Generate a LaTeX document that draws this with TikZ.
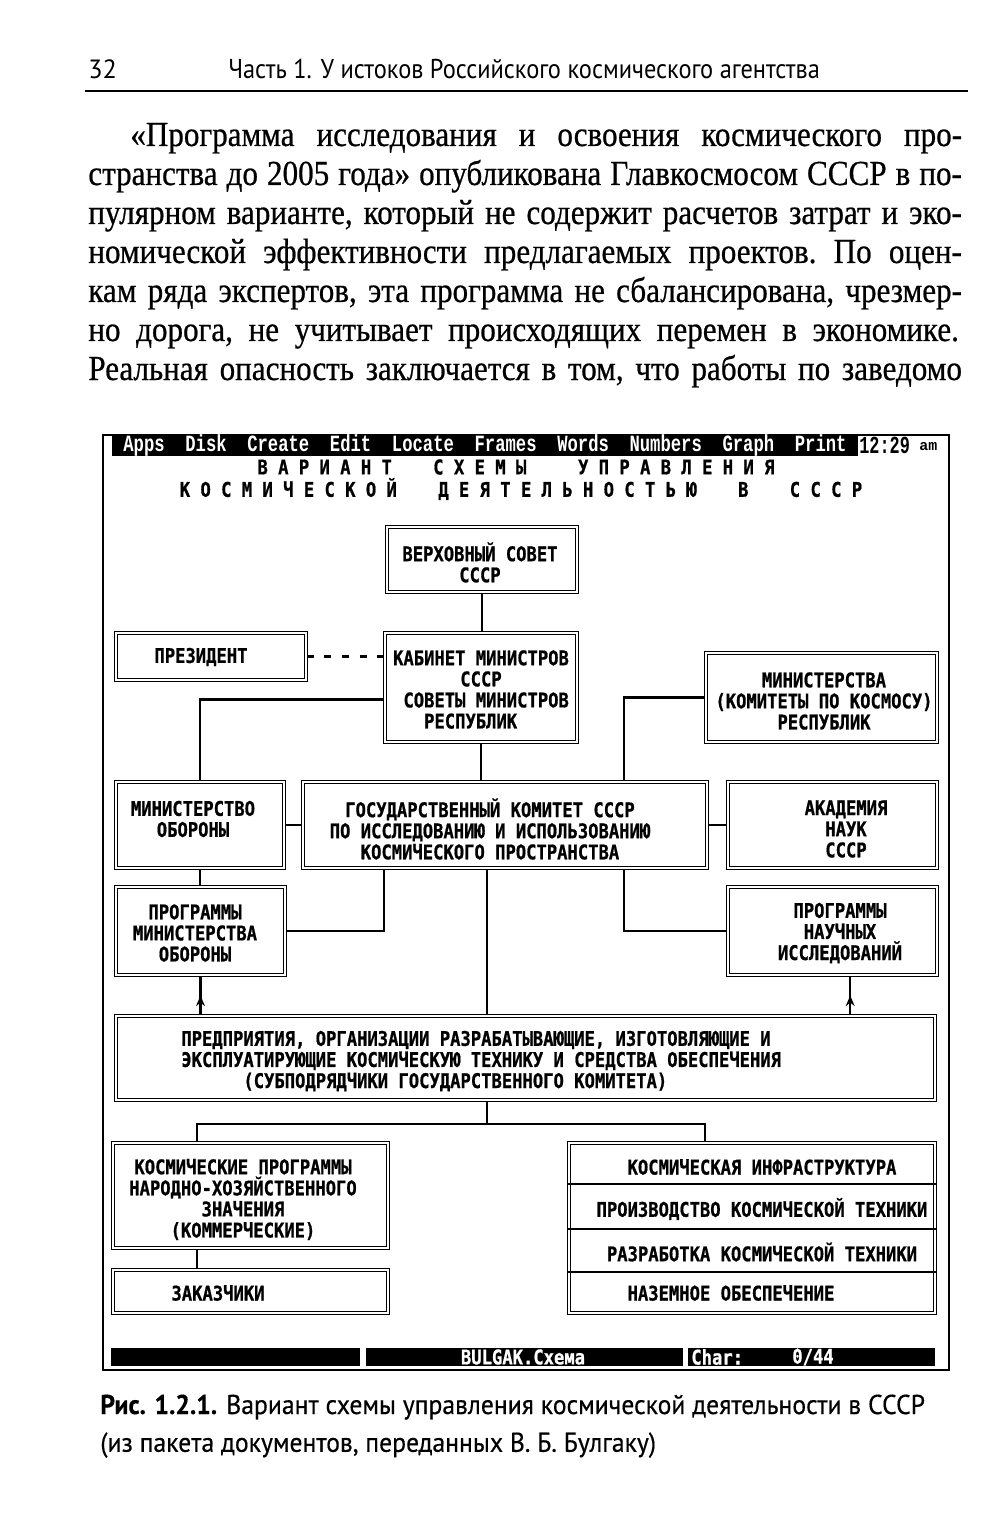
\documentclass[tikz,border=0pt]{standalone}
\usepackage{fontspec}
\usepackage{graphicx}
\usetikzlibrary{fit,calc,arrows.meta,decorations.markings}
\newfontfamily\bodyfont[FakeStretch=0.885,FakeBold=0.6]{Liberation Serif}
\newfontfamily\hdfont{PT Sans}
\newfontfamily\capfont[FakeBold=0.4]{PT Sans}
\newfontfamily\dgfont[FakeStretch=0.85,FakeBold=0.8]{DejaVu Sans Mono}
\newfontfamily\menufont{Liberation Mono}
\tikzset{
  boxst/.style={draw, line width=0.9pt, double, double distance=0.6pt, inner sep=0pt},
  conn/.style={line width=1.2pt},
  lbl/.style={font={\dgfont\bfseries\fontsize{11.5}{12}\selectfont}, align=center, inner sep=0pt},
  para/.style={anchor=base west, inner sep=0pt, font={\bodyfont\fontsize{20}{22}\selectfont\frenchspacing}},
  stat/.style={font={\dgfont\bfseries\fontsize{11.5}{12}\selectfont}, text=white, inner sep=0pt},
  uparr/.style={conn, postaction={decorate}, decoration={markings, mark=at position 0.5 with {\arrow{Stealth[length=6pt,width=5pt]}}}}
}
\newcommand\bx[5]{\node[boxst, fit={(#2,#3) (#4,#5)}] (#1) {};}
\begin{document}
\begin{tikzpicture}[x=0.02cm,y=-0.02cm]
\fill[white] (0,0) rectangle (1000,1523);
\useasboundingbox (0,0) rectangle (1000,1523);

% header
\node[anchor=base west, inner sep=0pt, font={\hdfont\fontsize{15}{16}\selectfont}] (pg) at (88,79) {32};
\node[anchor=base west, inner sep=0pt, font={\hdfont\fontsize{15.5}{16}\selectfont}] (hd) at (228,79) {\resizebox{336.7pt}{\height}{Часть 1. У истоков Российского космического агентства}};
\draw[line width=1.3pt] (85,91) -- (968,91);

% paragraph
\node[para] (l1) at (130,146) {\makebox[473.4pt][s]{«Программа исследования и освоения космического про-}};
\node[para] (l2) at (88,185) {\makebox[497.2pt][s]{странства до 2005 года» опубликована Главкосмосом СССР в по-}};
\node[para] (l3) at (88,224) {\makebox[497.2pt][s]{пулярном варианте, который не содержит расчетов затрат и эко-}};
\node[para] (l4) at (88,263) {\makebox[497.2pt][s]{номической эффективности предлагаемых проектов. По оцен-}};
\node[para] (l5) at (88,302) {\makebox[497.2pt][s]{кам ряда экспертов, эта программа не сбалансирована, чрезмер-}};
\node[para] (l6) at (88,341) {\makebox[495.5pt][s]{но дорога, не учитывает происходящих перемен в экономике.}};
\node[para] (l7) at (88,380) {\makebox[497.2pt][s]{Реальная опасность заключается в том, что работы по заведомо}};

% screen frame and menu
\draw[line width=1.2pt] (103,435) rectangle (949,1370);
\fill (112,434) rectangle (858,456);
\node[anchor=west, inner sep=0pt, text=white, font={\menufont\bfseries\fontsize{9.8}{12}\selectfont}] (menu) at (123,445.5) {\scalebox{1}[1.35]{Apps~~Disk~~Create~~Edit~~Locate~~Frames~~Words~~Numbers~~Graph~~Print}};
\node[anchor=west, inner sep=0pt, font={\menufont\bfseries\fontsize{9.6}{12}\selectfont}] (clk) at (859,445.5) {\scalebox{1}[1.45]{12:29}};
\node[anchor=west, inner sep=0pt, font={\menufont\bfseries\fontsize{8.5}{10}\selectfont}] (ampm) at (919,447) {am};

% title
\node[lbl] (t1) at (516,467) {В~А~Р~И~А~Н~Т~~~~С~Х~Е~М~Ы~~~~~У~П~Р~А~В~Л~Е~Н~И~Я};
\node[lbl] (t2) at (521,489) {К~О~С~М~И~Ч~Е~С~К~О~Й~~~~Д~Е~Я~Т~Е~Л~Ь~Н~О~С~Т~Ь~Ю~~~~В~~~~С~С~С~Р};

% boxes
\bx{verh}{387}{527}{577}{592}
\bx{pres}{116}{633}{306}{680}
\bx{kab}{385}{633}{577}{742}
\bx{mins}{706}{653}{937}{742}
\bx{mo}{116}{782}{284}{868}
\bx{gos}{303}{782}{707}{868}
\bx{akad}{728}{782}{937}{868}
\bx{pmo}{116}{887}{285}{975}
\bx{pni}{728}{887}{937}{975}
\bx{pred}{116}{1016}{935}{1100}
\bx{kosm}{113}{1143}{388}{1248}
\bx{zak}{113}{1270}{388}{1313}
\bx{stk}{569}{1143}{935}{1313}

% box texts
\node[lbl] (verh-t) at (480,562.5) {ВЕРХОВНЫЙ СОВЕТ\\СССР};
\node[lbl] (pres-t) at (201,657) {ПРЕЗИДЕНТ};
\node[lbl] (kab-t) at (481,689.5) {КАБИНЕТ МИНИСТРОВ\\СССР\\\phantom{X}СОВЕТЫ МИНИСТРОВ\\РЕСПУБЛИК\phantom{XX}};
\node[lbl] (mins-t) at (824,701) {МИНИСТЕРСТВА\\(КОМИТЕТЫ ПО КОСМОСУ)\\РЕСПУБЛИК};
\node[lbl] (mo-t) at (193,819) {МИНИСТЕРСТВО\\ОБОРОНЫ};
\node[lbl] (gos-t) at (490,829) {ГОСУДАРСТВЕННЫЙ КОМИТЕТ СССР\\ПО ИССЛЕДОВАНИЮ И ИСПОЛЬЗОВАНИЮ\\КОСМИЧЕСКОГО ПРОСТРАНСТВА};
\node[lbl] (akad-t) at (846,829) {АКАДЕМИЯ\\НАУК\\СССР};
\node[lbl] (pmo-t) at (195,933) {ПРОГРАММЫ\\МИНИСТЕРСТВА\\ОБОРОНЫ};
\node[lbl] (pni-t) at (840,933) {ПРОГРАММЫ\\НАУЧНЫХ\\ИССЛЕДОВАНИЙ};
\node[lbl, align=left, anchor=west] (pred-t) at (181,1061) {ПРЕДПРИЯТИЯ, ОРГАНИЗАЦИИ РАЗРАБАТЫВАЮЩИЕ, ИЗГОТОВЛЯЮЩИЕ И\\ЭКСПЛУАТИРУЮЩИЕ КОСМИЧЕСКУЮ ТЕХНИКУ И СРЕДСТВА ОБЕСПЕЧЕНИЯ\\\phantom{XXXXXX}(СУБПОДРЯДЧИКИ ГОСУДАРСТВЕННОГО КОМИТЕТА)};
\node[lbl] (kosm-t) at (243,1199.5) {КОСМИЧЕСКИЕ ПРОГРАММЫ\\НАРОДНО-ХОЗЯЙСТВЕННОГО\\ЗНАЧЕНИЯ\\(КОММЕРЧЕСКИЕ)};
\node[lbl] (zak-t) at (218,1293) {ЗАКАЗЧИКИ};

% stacked box rows
\draw[conn] ($(stk.north west)+(0,42)$) -- ($(stk.north east)+(0,42)$);
\draw[conn] ($(stk.north west)+(0,87)$) -- ($(stk.north east)+(0,87)$);
\draw[conn] ($(stk.north west)+(0,130)$) -- ($(stk.north east)+(0,130)$);
\node[lbl] (s1) at (762,1167) {КОСМИЧЕСКАЯ ИНФРАСТРУКТУРА};
\node[lbl] (s2) at (762,1209) {ПРОИЗВОДСТВО КОСМИЧЕСКОЙ ТЕХНИКИ};
\node[lbl] (s3) at (762,1252) {РАЗРАБОТКА КОСМИЧЕСКОЙ ТЕХНИКИ};
\node[lbl] (s4) at (731,1293) {НАЗЕМНОЕ ОБЕСПЕЧЕНИЕ};

% connectors
\draw[conn] (verh.south) -- (verh.south |- kab.north);
\draw[conn, dash pattern=on 4pt off 6pt] (pres.east) -- (pres.east -| kab.west);
\coordinate (kl) at ($(kab.west)+(0,12)$);
\draw[conn] (kl) -| (mo.north);
\draw[conn] (kab.south) -- (kab.south |- gos.north);
\coordinate (gr) at ($(gos.north west)+(322,0)$);
\draw[conn] (mins.west) -| (gr);
\draw[conn] (mo.east) -- (gos.west);
\draw[conn] (gos.east) -- (akad.west);
\draw[conn] (mo.south) -- (mo.south |- pmo.north);
\coordinate (gl) at ($(gos.south west)+(82,0)$);
\draw[conn] (gl) |- (pmo.east);
\coordinate (grr) at ($(gos.south west)+(322,0)$);
\draw[conn] (grr) |- (pni.west);
\coordinate (gm) at ($(gos.south west)+(185,0)$);
\draw[conn] (gm) -- (gm |- pred.north);
\draw[uparr] (pred.north -| pmo.south) -- (pmo.south);
\coordinate (pa2) at ($(pni.south west)+(123,0)$);
\draw[uparr] (pred.north -| pa2) -- (pa2);
\coordinate (pm) at ($(pred.south west)+(372,0)$);
\coordinate (jn) at ($(pm)+(0,23)$);
\draw[conn] (pm) -- (jn);
\coordinate (kt) at ($(kosm.north west)+(85,0)$);
\coordinate (st) at ($(stk.north west)+(137,0)$);
\draw[conn] (kt) |- (jn) -| (st);
\coordinate (kb) at ($(kosm.south west)+(85,0)$);
\draw[conn] (kb) -- (kb |- zak.north);

% status bar
\fill (111,1348) rectangle (360,1366);
\fill (366,1348) rectangle (683,1366);
\fill (688,1348) rectangle (935,1366);
\node[stat] (fname) at (523,1357) {BULGAK.Схема};
\node[stat, anchor=west] (chr) at (691,1357) {Char:};
\node[stat] (cnt) at (813,1357) {0/44};

% caption
\node[anchor=base west, inner sep=0pt, font={\capfont\fontsize{15.5}{21.5}\selectfont}] (cap) at (100,1414) {\resizebox{469.4pt}{\height}{\begin{tabular}[t]{@{}l@{}}\textbf{Рис. 1.2.1.} Вариант схемы управления космической деятельности в СССР\\(из пакета документов, переданных В. Б. Булгаку)\end{tabular}}};
\end{tikzpicture}
\end{document}
